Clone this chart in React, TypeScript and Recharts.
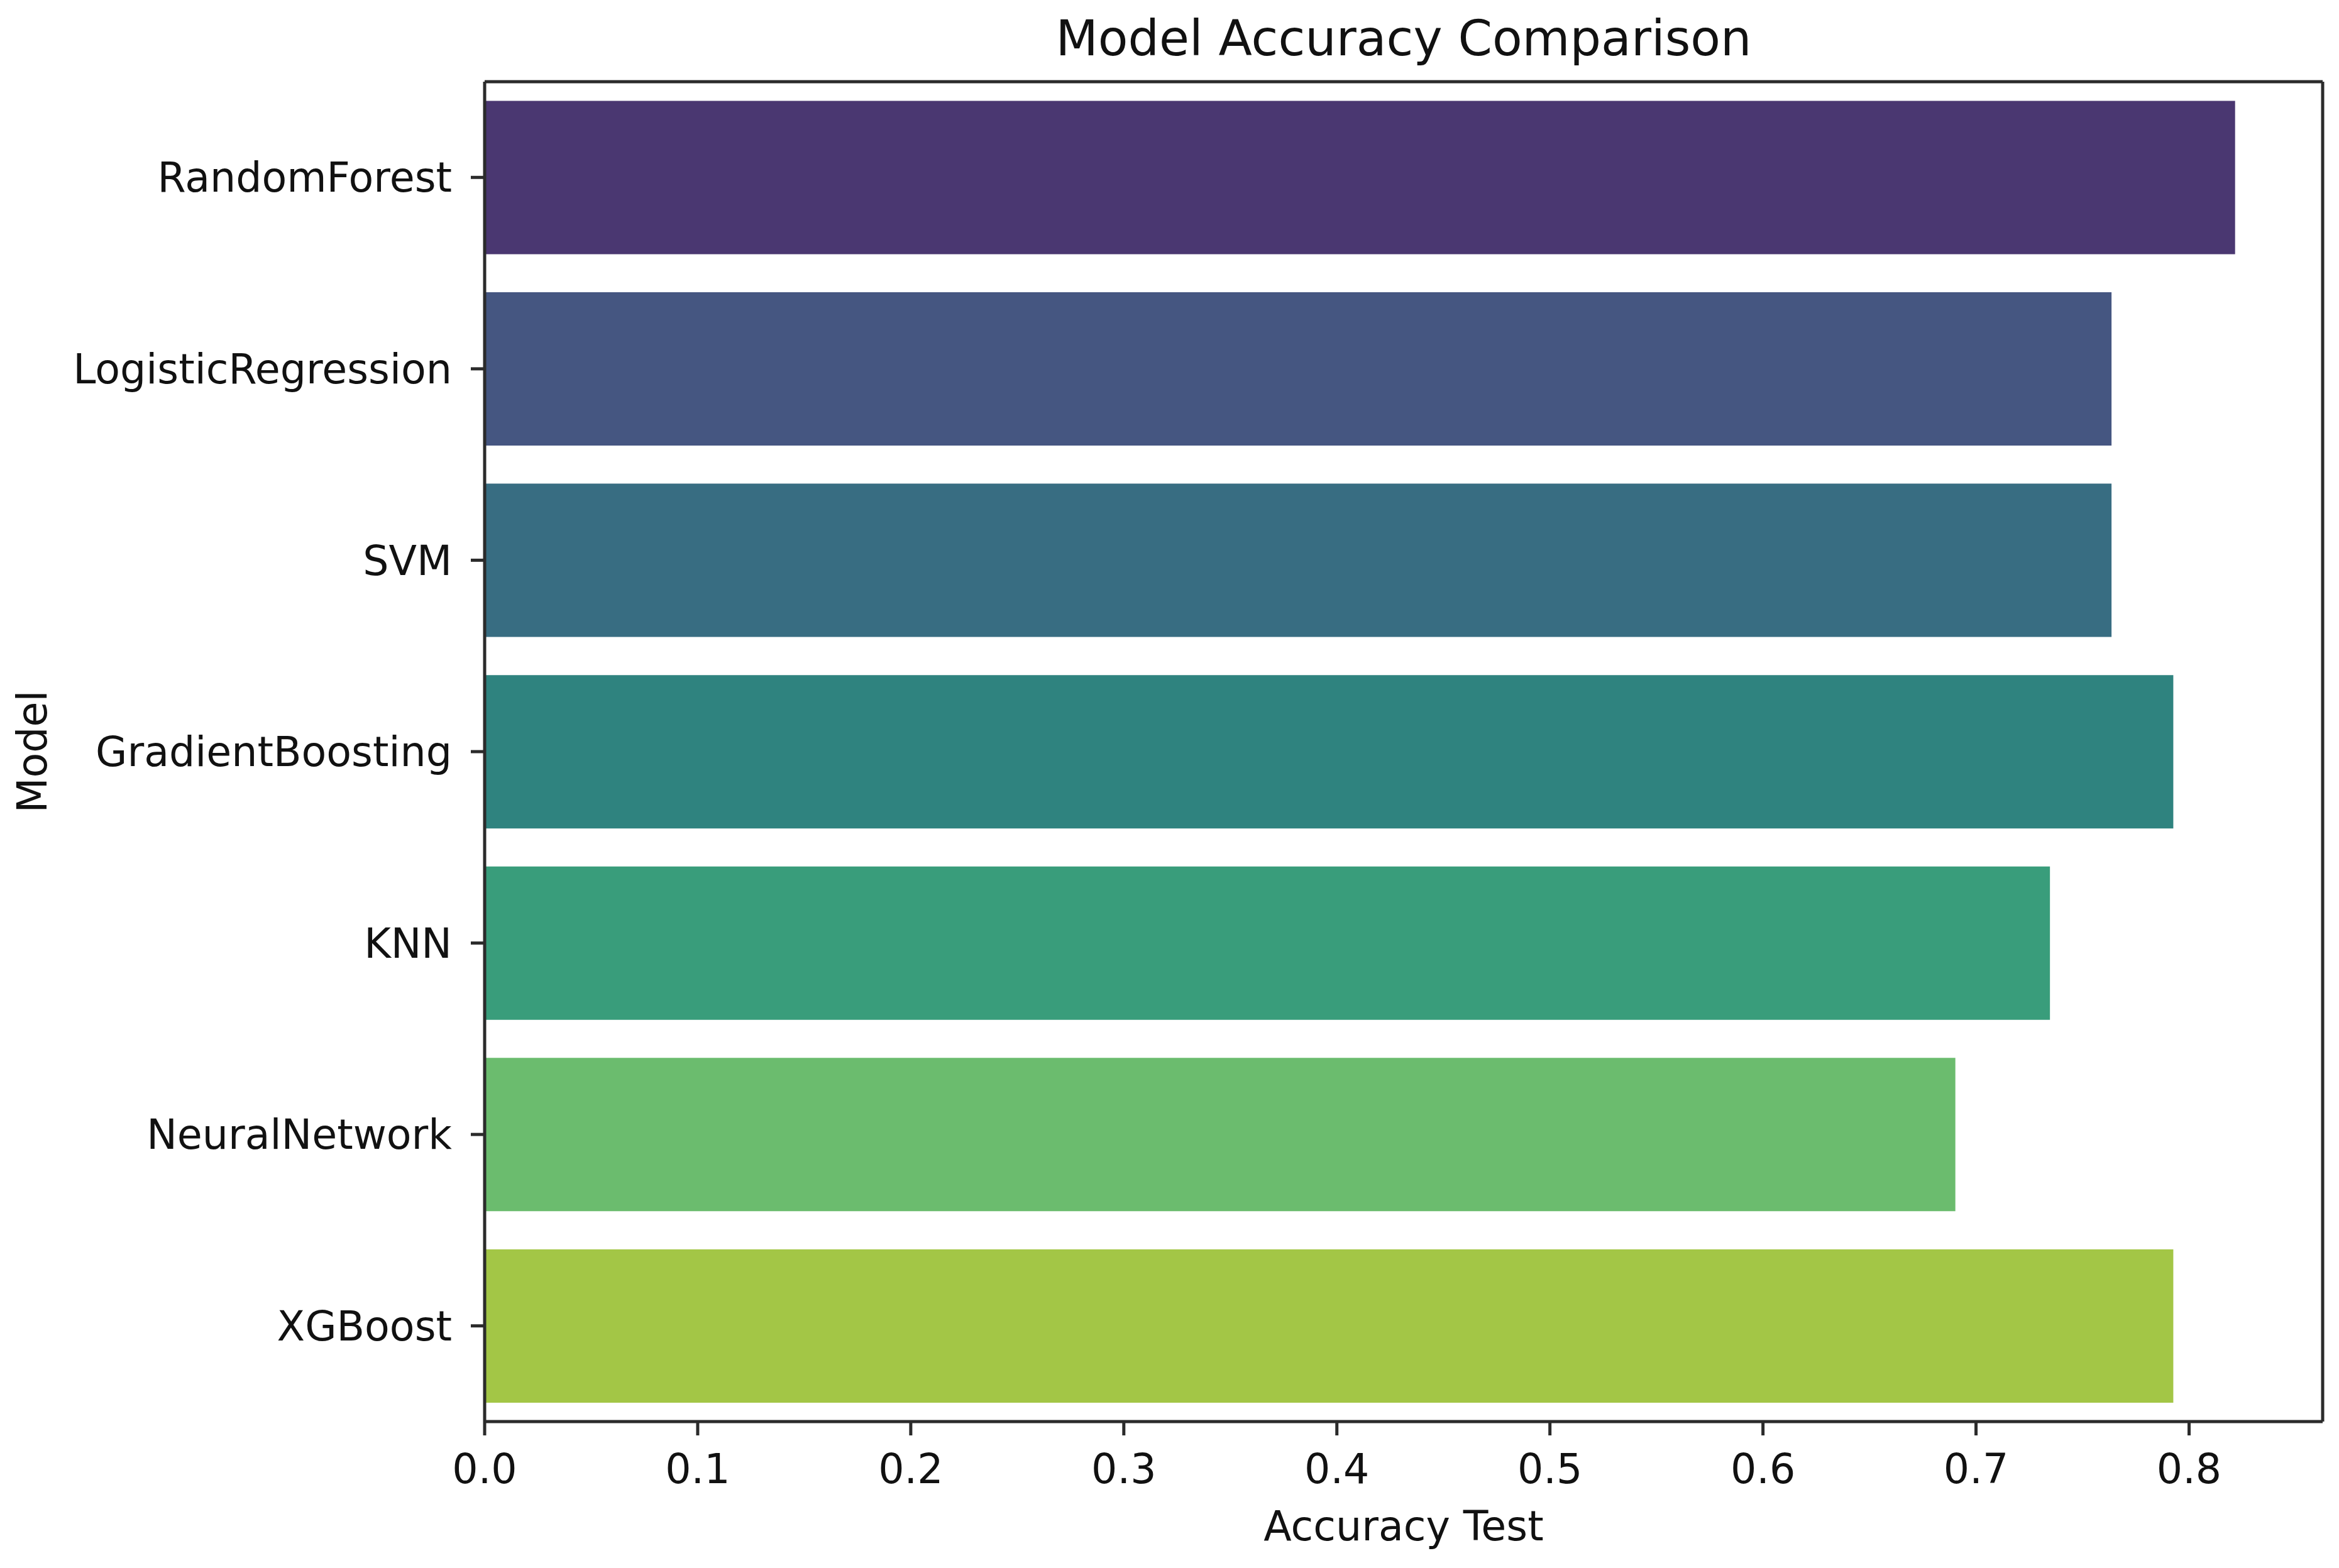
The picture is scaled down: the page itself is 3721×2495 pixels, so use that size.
import React from 'react';
import { BarChart, Bar, XAxis, YAxis, Cell, CartesianGrid } from 'recharts';

// values
const models = ['RandomForest', 'LogisticRegression', 'SVM', 'GradientBoosting', 'KNN', 'NeuralNetwork', 'XGBoost'];
const accuracy = [0.8216, 0.7636, 0.7636, 0.7926, 0.7347, 0.6903, 0.7926];
const barColors = ['#4a3771', '#455681', '#386d82', '#2f837f', '#399d7b', '#6bbc6e', '#a3c646'];
const xTicks = [0, 0.1, 0.2, 0.3, 0.4, 0.5, 0.6, 0.7, 0.8];
const xMax = 0.8627;

const data = models.map((m, i) => ({ model: m, accuracy: accuracy[i] }));

const FONT = '"DejaVu Sans", sans-serif';
const INK = '#111';
const LINE = '#2b2b2b';

const ModelLabel = (props: any) => {
  const vb = props.viewBox || {};
  const x = vb.x + 3;
  const y = vb.y + vb.height / 2;
  return (
    <text
      x={x}
      y={y}
      transform={`rotate(-90, ${x}, ${y})`}
      textAnchor="middle"
      fontSize={65}
      fontFamily={FONT}
      fill={INK}
    >
      Model
    </text>
  );
};

const App: React.FC = () => {
  return (
    <div style={{ position: 'absolute', left: 0, top: 0, background: '#fff', width: 3721, height: 2495 }}>
      <div
        style={{
          position: 'absolute',
          left: 771,
          top: 22,
          width: 2924,
          textAlign: 'center',
          fontFamily: FONT,
          fontSize: 78,
          lineHeight: '78px',
          color: INK,
        }}
      >
        Model Accuracy Comparison
      </div>
      <BarChart
        width={3721}
        height={2495}
        data={data}
        layout="vertical"
        barCategoryGap="10%"
        margin={{ top: 130, right: 26, bottom: 103, left: 71 }}
      >
        {/* top and right spines of the frame */}
        <CartesianGrid
          stroke={LINE}
          strokeWidth={5}
          horizontalCoordinatesGenerator={({ offset }: any) => [offset.top]}
          verticalCoordinatesGenerator={({ offset }: any) => [offset.left + offset.width]}
        />
        <XAxis
          type="number"
          dataKey="accuracy"
          domain={[0, xMax]}
          ticks={xTicks}
          allowDataOverflow
          tickFormatter={(v: number) => v.toFixed(1)}
          tick={{ fontSize: 65, fontFamily: FONT, fill: INK }}
          tickSize={22}
          tickMargin={30}
          tickLine={{ stroke: LINE, strokeWidth: 5 }}
          axisLine={{ stroke: LINE, strokeWidth: 5 }}
          height={130}
          label={{ value: 'Accuracy Test', position: 'bottom', offset: 13, fontSize: 65, fontFamily: FONT, fill: INK }}
        />
        <YAxis
          type="category"
          dataKey="model"
          width={700}
          tick={{ fontSize: 65, fontFamily: FONT, fill: INK }}
          tickSize={22}
          tickMargin={30}
          tickLine={{ stroke: LINE, strokeWidth: 5 }}
          axisLine={{ stroke: LINE, strokeWidth: 5 }}
          label={<ModelLabel />}
        />
        <Bar dataKey="accuracy" isAnimationActive={false}>
          {data.map((d, i) => (
            <Cell key={d.model} fill={barColors[i]} />
          ))}
        </Bar>
      </BarChart>
    </div>
  );
};

export default App;
